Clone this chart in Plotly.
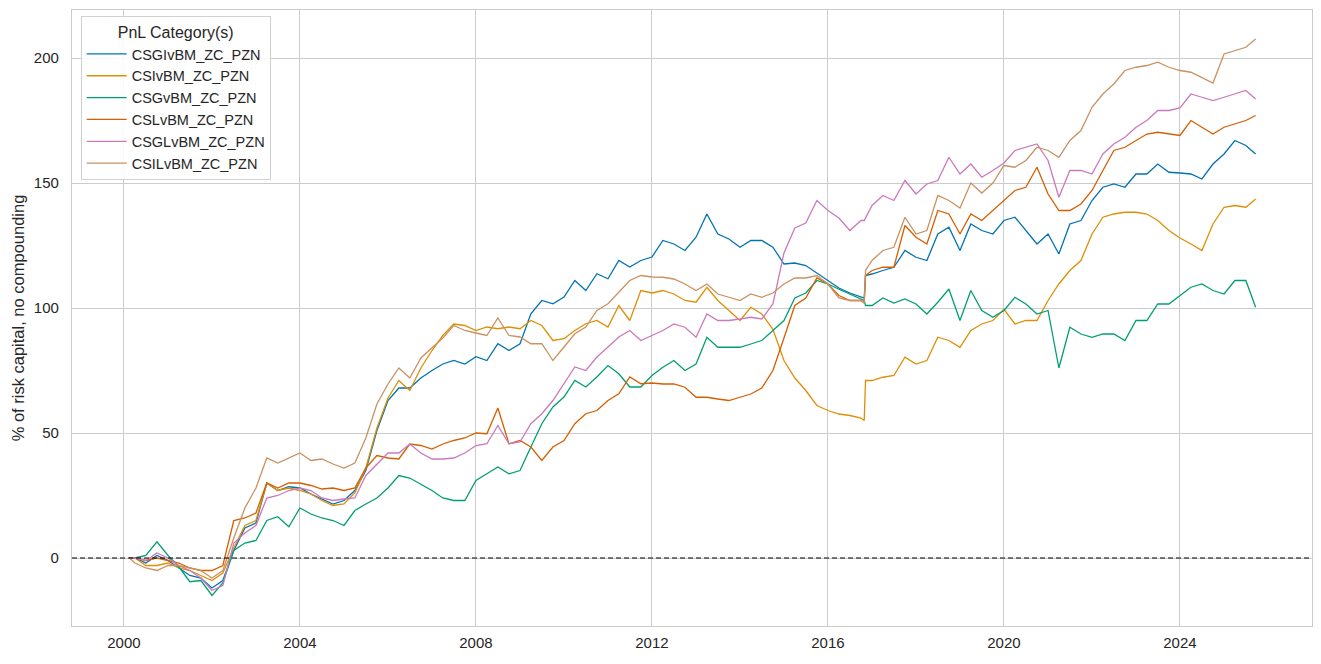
import pandas as pd
import plotly.graph_objects as go

# x: start point, quarter starts Apr-2000 .. Jul-2025, last observation
dates = (["2000-02-15"]
         + [d.strftime("%Y-%m-%d") for d in pd.date_range("2000-04-01", "2025-07-01", freq="QS")]
         + ["2025-09-20"])
# two extra observations around the Nov-2016 jump
extra_dates = ["2016-10-28", "2016-11-08"]

# cumulative PnL, % of risk capital (one row per year)
csgi = [0,
        0, -2, 1,
        -1, -4, -7, -8,
        -12, -9, 3, 12,
        14, 30, 27, 28.5,
        28, 25.6, 23.6, 21.6,
        23, 27, 35, 51,
        63, 68, 68, 72,
        75, 77.6, 79, 77.6,
        80.5, 79, 85.7, 83,
        85.7, 97.7, 103, 101.7,
        104.4, 111, 107, 113.7,
        111.7, 119, 116.4, 119,
        120.4, 127, 125.6, 123,
        128.3, 137.6, 129.6, 127.6,
        124.3, 127, 127, 124.3,
        117.6, 118, 117, 114,
        111, 108, 106, 104.5,
        113.6, 115, 116.3, 123,
        120.3, 119, 129.6, 132.3,
        123, 133.6, 131, 129.6,
        135, 136.3, 131, 125.6,
        129.6, 121.6, 133.6, 135,
        143, 148.3, 149.6, 148.3,
        153.6, 153.6, 157.6, 154.3,
        154, 153.6, 151.6, 157.6,
        161.6, 167, 165,
        161.6]
csi = [0,
       0, -3, -3,
       -2, -4, -5, -7,
       -9, -6, 4, 13,
       15, 30, 27, 28,
       27, 25.6, 23, 21,
       21.6, 26, 36, 52,
       64, 71, 67, 76,
       83, 89, 93.6, 93,
       91, 92.4, 91.7, 92.4,
       91.7, 95, 93, 87,
       87.7, 91, 93.7, 95,
       92.4, 101, 95, 107,
       106, 107, 105.6, 103,
       102.3, 108.3, 103, 99,
       95, 100.3, 97.6, 91.5,
       79, 72, 67, 61,
       59, 57.6, 57, 56,
       71, 72.3, 73, 80.3,
       77.6, 79, 88.3, 87,
       84.3, 91, 93.6, 95,
       99.5, 93.6, 95, 95,
       103, 109.6, 115, 119,
       129.6, 136.3, 137.6, 138.3,
       138.3, 137.6, 135, 131,
       128, 125.6, 123, 133.6,
       140.3, 141, 140.3,
       143.6]
csg = [0,
       0, 1, 6.5,
       1, -3.5, -9.5, -9,
       -15, -10, 3, 6,
       7, 15, 16.5, 12.5,
       20, 17.6, 16, 15,
       13, 19, 21.6, 24,
       28, 33, 32, 29.6,
       27, 24, 23, 23,
       31, 33.7, 36.4, 33.7,
       35, 44.4, 53.7, 60.4,
       64.4, 71, 68.4, 72.4,
       77, 73.7, 68.4, 68.4,
       73, 76.3, 79, 75,
       77.6, 88.3, 84.3, 84.3,
       84.3, 85.6, 87, 91,
       95, 104, 106, 111,
       109.6, 107.5, 105.6, 103.5,
       101, 104, 102, 103.6,
       101.6, 97.6, 102.3, 107.6,
       95, 107, 99, 96.3,
       99, 104.3, 101.6, 97.6,
       99, 76, 92.3, 89.6,
       88.3, 89.6, 89.6, 87,
       95, 95, 101.6, 101.6,
       105, 108.3, 109.6, 107,
       105.6, 111, 111,
       100.3]
csl = [0,
       0, -1, 0,
       -1, -2, -4, -5,
       -5, -3, 15, 16,
       18, 30, 28, 30,
       30, 29, 27.6, 28,
       27, 28, 36, 41,
       40, 39.6, 45.6, 45,
       43.6, 45.6, 47, 48,
       50, 49.7, 60, 45.7,
       47, 44.4, 39, 44.4,
       47, 53.7, 57.7, 59,
       63, 65.7, 72.4, 69.7,
       70, 69.6, 69.6, 68.3,
       64.3, 64.3, 63.6, 63,
       64.3, 65.6, 68, 75,
       88, 101, 104, 112,
       109.6, 105, 103, 103,
       115, 116.3, 116.3, 133,
       128.3, 125.6, 139, 137.6,
       129.6, 137.6, 135, 139,
       143, 147, 148.3, 156.3,
       145.6, 139, 139, 141.6,
       147, 155, 163, 164.3,
       167, 169.6, 170.3, 169.6,
       169, 175, 172.3, 169.6,
       172.3, 173.6, 175,
       177]
csgl = [0,
        0, -1, 2,
        0, -3, -5, -8,
        -13, -11, 6, 10,
        13, 24, 25, 27,
        28, 27, 24, 23,
        23.6, 24, 33, 37.6,
        42, 42, 45.6, 42,
        39.6, 39.6, 40, 42,
        45, 45.7, 53, 45.7,
        46.4, 53.7, 57.7, 63,
        69.7, 76.4, 75, 80.4,
        84.4, 88.4, 91, 87,
        89, 91, 93.6, 92.3,
        88.3, 97.6, 95, 95,
        95.6, 96.3, 95.6, 101.6,
        122, 132, 134, 143,
        139, 136, 131, 135,
        141, 145, 143, 151,
        145.6, 149.6, 151, 160.3,
        153.6, 157.6, 152.3, 155,
        158, 163, 164.3, 165.6,
        159, 144.3, 155, 155,
        153.6, 161.6, 165.6, 168.3,
        172.3, 175, 179, 179,
        180, 185.6, 184.3, 183,
        184.3, 185.6, 187,
        183.6]
csil = [0,
        -2, -4, -5,
        -3, -3, -4, -5,
        -8, -5, 8, 20,
        28, 40, 38, 40,
        42, 39, 39.6, 37.6,
        36, 38, 48, 61.6,
        69.6, 76, 72, 80,
        84, 88, 93, 91,
        90, 89, 96, 89,
        88.4, 85.7, 85.7, 79,
        84.4, 89.7, 92.4, 99,
        101.7, 106.4, 111, 113,
        112.4, 112.3, 111.6, 109.6,
        107, 109.6, 105.6, 104.3,
        103, 105.6, 104.3, 106,
        109.6, 112, 112, 113,
        109.6, 104, 103, 103,
        119, 123, 124.3, 136.3,
        129.6, 131, 145, 143,
        140, 150, 146, 150,
        157, 156.3, 159, 164.3,
        163, 160.3, 167, 171,
        180.3, 185.6, 189.6, 195,
        196.3, 197, 198.3, 196.3,
        195, 194.3, 192.3, 190,
        201.6, 203, 204.3,
        207.6]

# values at extra_dates (just before / just after the jump)
csgi_x = [104, 113]
csi_x = [55, 71]
csg_x = [103, 101]
csl_x = [102, 113]
csgl_x = [135, 136]
csil_x = [102, 115]

names = ["CSGIvBM_ZC_PZN", "CSIvBM_ZC_PZN", "CSGvBM_ZC_PZN",
         "CSLvBM_ZC_PZN", "CSGLvBM_ZC_PZN", "CSILvBM_ZC_PZN"]
series = [(csgi, csgi_x), (csi, csi_x), (csg, csg_x),
          (csl, csl_x), (csgl, csgl_x), (csil, csil_x)]
colors = ["#0173b2", "#de8f05", "#029e73", "#d55e00", "#cc78bc", "#ca9161"]

fig = go.Figure()
for name, (vals, xvals), col in zip(names, series, colors):
    assert len(vals) == len(dates), name
    df = pd.DataFrame({"date": pd.to_datetime(dates + extra_dates),
                       "pnl": vals + xvals}).sort_values("date")
    fig.add_trace(go.Scatter(x=df["date"], y=df["pnl"], mode="lines", name=name,
                             line=dict(color=col, width=1.3)))

fig.add_hline(y=0, line=dict(color="black", width=1, dash="5px,3px"))

ticks = ["2000-01-01", "2004-01-01", "2008-01-01", "2012-01-01",
         "2016-01-01", "2020-01-01", "2024-01-01"]

# page body has an 8px margin, so the figure is 8px smaller and margins shifted
fig.update_layout(
    width=1313, height=656,
    margin=dict(l=64, r=9, t=2, b=38),
    paper_bgcolor="white", plot_bgcolor="white",
    font=dict(family="Liberation Sans, Arial, sans-serif", size=15, color="#262626"),
    showlegend=True,
    legend=dict(
        title=dict(text="PnL Category(s)", side="top center", font=dict(size=16)),
        x=0.007, y=0.99, xanchor="left", yanchor="top",
        bgcolor="rgba(255,255,255,0.85)", bordercolor="#d0d0d0", borderwidth=1,
        font=dict(size=14.5), itemwidth=40,
    ),
    xaxis=dict(
        range=["1998-10-27", "2027-01-01"],
        tickvals=ticks, ticktext=[t[:4] for t in ticks],
        showgrid=True, gridcolor="#cccccc", gridwidth=1,
        showline=True, linecolor="#cccccc", linewidth=1.3, mirror=True,
        ticks="", zeroline=False, automargin=False, ticklabelstandoff=3,
    ),
    yaxis=dict(
        range=[-27.2, 219.2],
        tickvals=[0, 50, 100, 150, 200],
        title=dict(text="% of risk capital, no compounding", font=dict(size=16.5), standoff=5),
        showgrid=True, gridcolor="#cccccc", gridwidth=1,
        showline=True, linecolor="#cccccc", linewidth=1.3, mirror=True,
        ticks="", zeroline=False, automargin=False, ticklabelstandoff=9,
    ),
)

fig.write_html("out.html")
